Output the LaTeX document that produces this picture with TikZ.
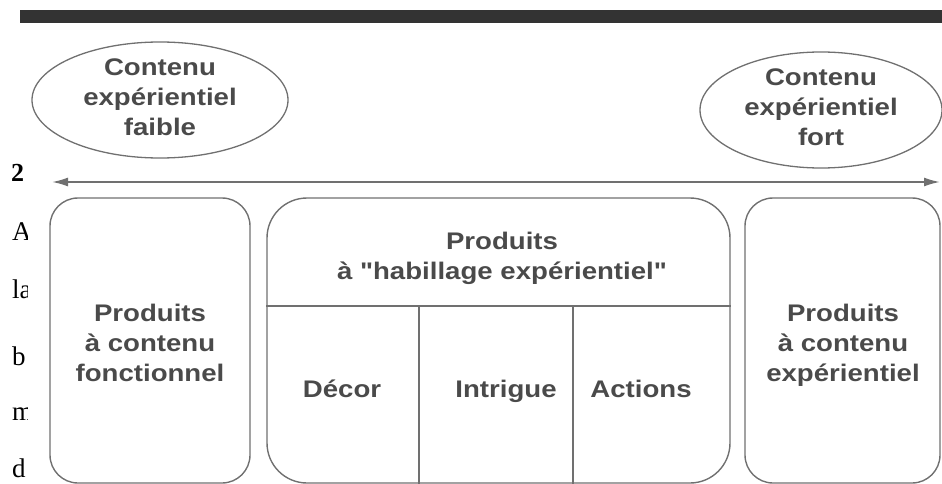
\documentclass[tikz,border=0pt]{standalone}
\usepackage{fontspec}
\usepackage{tikz}
\usetikzlibrary{shapes,arrows,positioning,calc,arrows.meta}
\newfontfamily\diafont[FakeStretch=1.15]{Liberation Sans}
\newfontfamily\pagefont{Liberation Serif}
\definecolor{trait}{HTML}{707070}
\definecolor{texte}{HTML}{4A4A4A}
\definecolor{barre}{HTML}{333333}

\begin{document}
\begin{tikzpicture}[x=1pt, y=-1pt,
    lbl/.style={font=\diafont\bfseries\fontsize{24}{30}\selectfont, text=texte, align=center},
    bulle/.style={draw=trait, line width=1.3pt, ellipse, inner sep=0pt},
    boite/.style={draw=trait, line width=1.4pt, rectangle, inner sep=0pt},
    fleche/.style={draw=trait, line width=1.8pt, {Latex[length=16pt,width=9pt]}-{Latex[length=16pt,width=9pt]}},
    bord/.style={font=\pagefont\fontsize{27}{30}\selectfont, anchor=base west, inner sep=0pt}]
    \useasboundingbox (0,0) rectangle (942,484);

    % Top rule
    \fill[barre] (20,10) rectangle (942,23);

    % Page text showing at the left edge
    \begin{scope}
        \clip (0,150) rectangle (27,484);
        \node[bord, font=\pagefont\bfseries\fontsize{26}{30}\selectfont] (p2) at (11,181) {2};
        \node[bord] (pA) at (12,240) {A};
        \node[bord] (pla) at (12,298) {la};
        \node[bord] (pb) at (12,365) {b};
        \node[bord] (pm) at (12,420) {m};
        \node[bord] (pd) at (12,477) {d};
    \end{scope}

    % Ellipses
    \node[bulle, minimum width=256, minimum height=116] (faible) at (160,100) {};
    \node[lbl] at (160,97) {Contenu\\expérientiel\\faible};
    \node[bulle, minimum width=242, minimum height=116] (fort) at (821,110) {};
    \node[lbl] at (821,107) {Contenu\\expérientiel\\fort};

    % Axis
    \coordinate (gauche) at (52,182);
    \coordinate (droite) at (940,182);
    \draw[fleche] (gauche) -- (droite);

    % Boxes
    \node[boite, rounded corners=28, minimum width=200, minimum height=285] (fonc) at (150,340.5) {};
    \node[lbl] at (150,343) {Produits\\à contenu\\fonctionnel};

    \node[boite, rounded corners=40, minimum width=463, minimum height=285] (habillage) at (498.5,340.5) {};
    \node[lbl] (entete) at (502,258) {Produits\\à "habillage expérientiel"};
    \draw[trait, line width=1.4pt] (habillage.west |- 0,306) -- (habillage.east |- 0,306);
    \draw[trait, line width=1.4pt] (419,306) -- (habillage.south -| 419,0);
    \draw[trait, line width=1.4pt] (573,306) -- (habillage.south -| 573,0);
    \node[lbl, anchor=base] (decor) at (342,397) {Décor};
    \node[lbl, anchor=base] (intrigue) at (506,397) {Intrigue};
    \node[lbl, anchor=base] (actions) at (641,397) {Actions};

    \node[boite, rounded corners=28, minimum width=195, minimum height=285] (exp) at (842.5,340.5) {};
    \node[lbl] at (843,345) {Produits\\à contenu\\expérientiel};
\end{tikzpicture}
\end{document}
